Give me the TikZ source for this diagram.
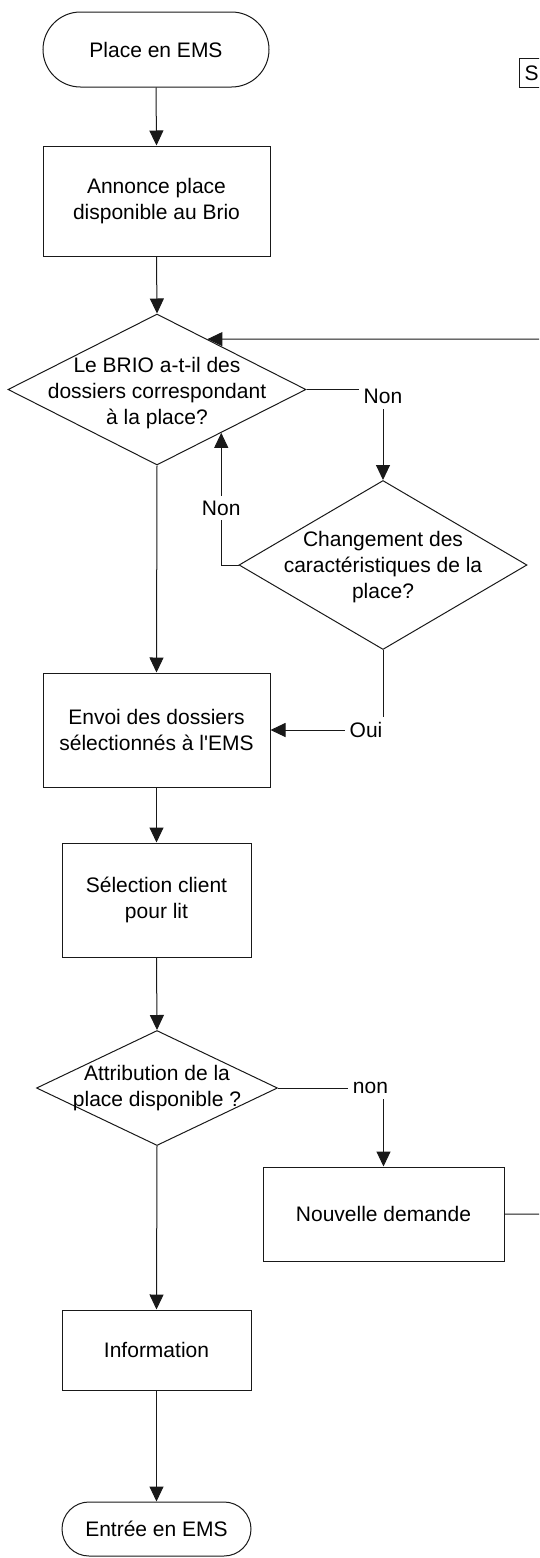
\documentclass[tikz,border=0pt]{standalone}
\usepackage{fontspec}
\setmainfont{Liberation Sans}
\usetikzlibrary{arrows.meta,shapes.geometric,shapes.misc}
\begin{document}
\begin{tikzpicture}[x=1pt,y=-1pt,
  every node/.style={font=\fontsize{21}{26}\selectfont, text=black},
  line/.style={draw=black!90, line width=1pt},
  arr/.style={line, -{Triangle[length=15pt,width=14pt]}},
  procbox/.style={draw=black!90, line width=1pt, rectangle, align=center, inner sep=0pt},
  term/.style={draw=black!90, line width=1pt, rounded rectangle, align=center, inner sep=0pt},
  decision/.style={draw=black!90, line width=1pt, diamond, inner sep=0pt},
  dtext/.style={align=center, inner sep=0pt},
  lbl/.style={fill=white, inner sep=5pt}
]
\useasboundingbox (0,0) rectangle (539,1558);
\clip (0,0) rectangle (539,1558);

% nodes
\node[term, minimum width=226pt, minimum height=75pt] (start) at (156,49.5) {Place en EMS};
\node[procbox, minimum width=227pt, minimum height=110pt] (annonce) at (156.5,201) {Annonce place\\disponible au Brio};
\node[decision, minimum width=298pt, minimum height=151pt] (d1) at (157,389.5) {};
\node[dtext] (d1t) at (157,393) {Le BRIO a-t-il des\\dossiers correspondant\\à la place?};
\node[decision, minimum width=288pt, minimum height=169pt] (d2) at (383,565) {};
\node[dtext] (d2t) at (383,567) {Changement des\\caractéristiques de la\\place?};
\node[procbox, minimum width=227pt, minimum height=114pt] (envoi) at (156.5,730) {Envoi des dossiers\\sélectionnés à l\textquotesingle EMS};
\node[procbox, minimum width=189pt, minimum height=114pt] (selection) at (156.5,900) {Sélection client\\pour lit};
\node[decision, minimum width=241pt, minimum height=115pt] (d3) at (157,1088) {};
\node[dtext] (d3t) at (157,1088) {Attribution de la\\place disponible ?};
\node[procbox, minimum width=241pt, minimum height=94pt] (nouvelle) at (383.5,1214) {Nouvelle demande};
\node[procbox, minimum width=189pt, minimum height=80pt] (info) at (156.5,1350) {Information};
\node[term, minimum width=189pt, minimum height=54pt] (fin) at (156.5,1529) {Entrée en EMS};
\node[draw=black!90, line width=1pt, anchor=north west, minimum height=29pt, text width=30pt, inner xsep=5pt, inner ysep=0pt, align=left] (sbox) at (519,58) {S};

\coordinate (rt) at (546,1214);
\coordinate (rb) at (546,339);

% connectors
\draw[arr] (start.south) -- (annonce.north);
\draw[arr] (annonce.south) -- (d1.north);
\draw[arr] (d1.south) -- (envoi.north);
\draw[arr] (envoi.south) -- (selection.north);
\draw[arr] (selection.south) -- (d3.north);
\draw[arr] (d3.south) -- (info.north);
\draw[arr] (info.south) -- (fin.north);

\draw[arr] (d1.east) -| node[lbl, yshift=-7pt] (non1) {Non} (d2.north);
\draw[arr] (d2.west) -| node[lbl, pos=0.716] (non2) {Non} (d1.-34.6);
\draw[arr] (d2.south) |- node[lbl, xshift=-17pt] (oui) {Oui} (envoi.east);
\draw[arr] (d3.east) -| node[lbl, xshift=-13pt] (non3) {non} (nouvelle.north);
\draw[arr] (nouvelle.east) -- (rt) -- (rb) -- (d1.45.9);
\end{tikzpicture}
\end{document}
